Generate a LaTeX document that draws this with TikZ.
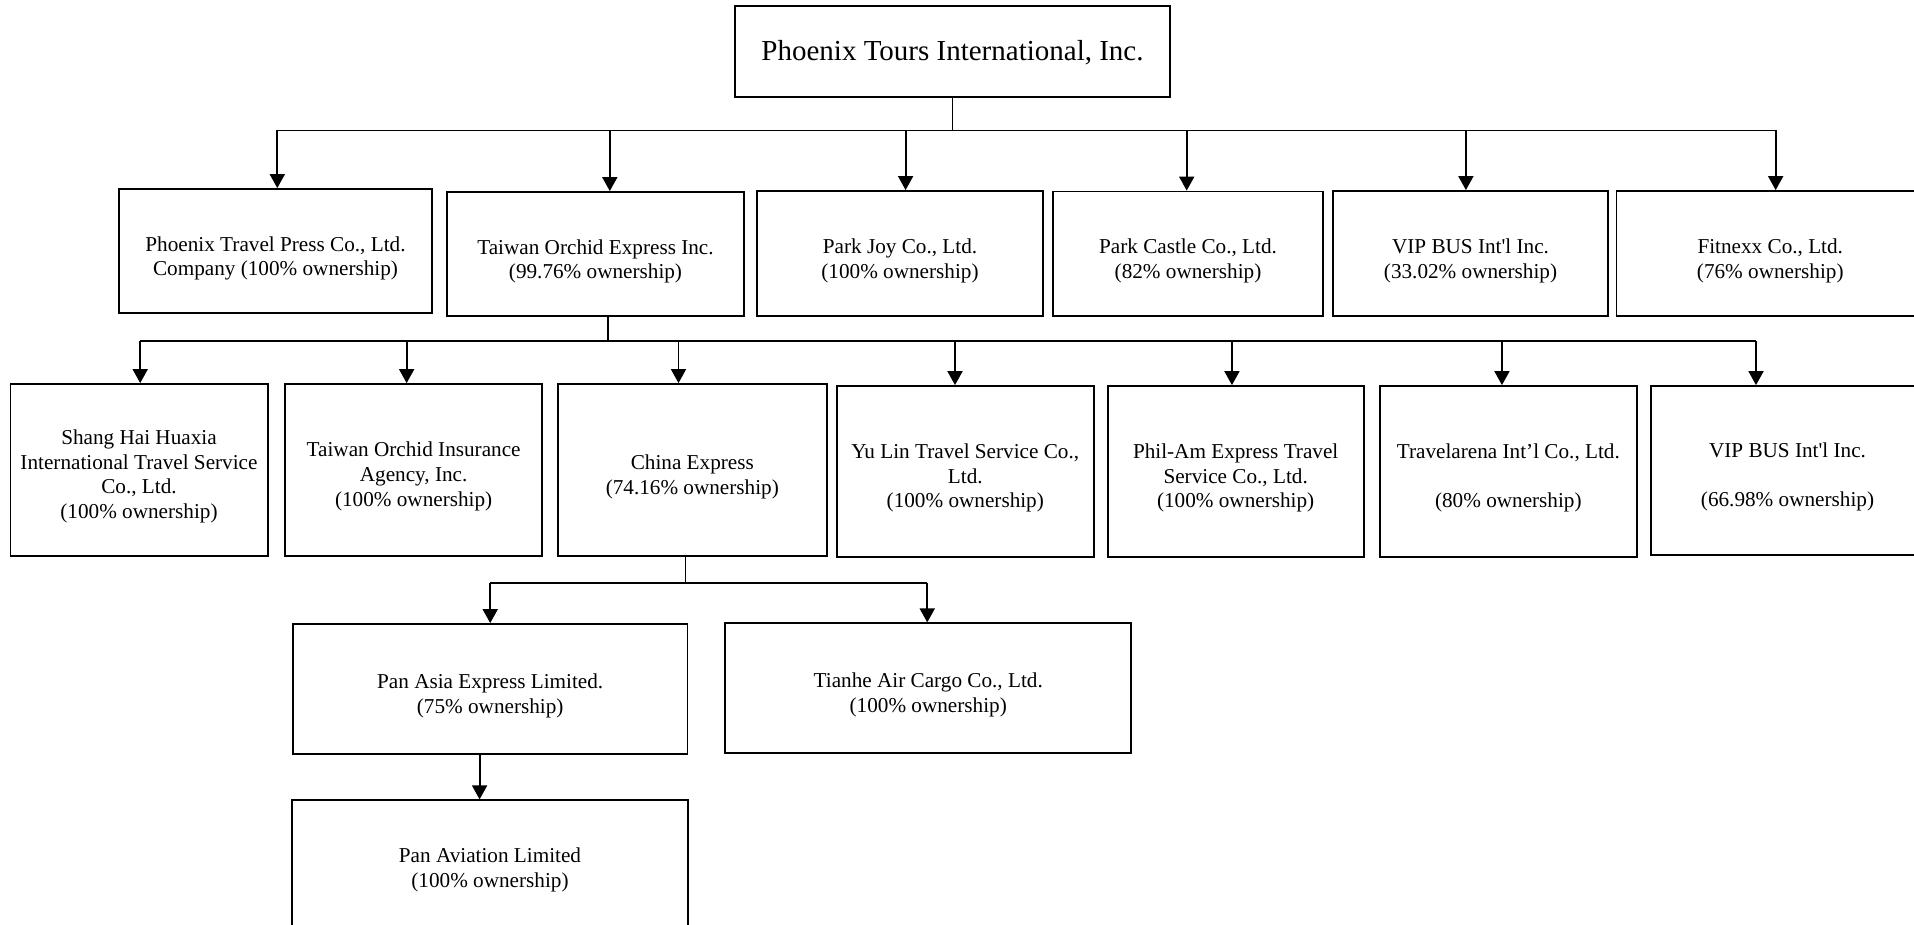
\documentclass[tikz,border=0pt]{standalone}
\usepackage{fontspec}
\setmainfont{Liberation Serif}
\usetikzlibrary{arrows.meta}
\newcommand\orgbox[5]{% name, x1, x2, y1, y2
  \pgfmathsetmacro\obW{#3-#2}\pgfmathsetmacro\obH{#5-#4}%
  \pgfmathsetmacro\obX{(#2+#3)/2}\pgfmathsetmacro\obY{(#4+#5)/2}%
  \node[boxst, minimum width=\obW pt, minimum height=\obH pt] (#1) at (\obX,\obY) {};}
\tikzset{
  boxst/.style={draw, line width=1.8pt, inner sep=0pt},
  txt/.style={align=center, inner sep=0pt, font=\fontsize{21.2}{24.7}\selectfont},
  roottxt/.style={align=center, inner sep=0pt, font=\fontsize{29}{34}\selectfont},
  ln/.style={line width=1.8pt},
  arr/.style={line width=1.8pt, -{Triangle[length=14pt,width=15pt]}},
}
\begin{document}
\begin{tikzpicture}[x=1pt,y=-1pt]
\useasboundingbox (0,0) rectangle (1914,925);
\clip (0,0) rectangle (1914,925);
% root
\orgbox{root}{735}{1170}{6}{97}
\node[roottxt] (roott) at ([yshift=-1pt]root.center) {Phoenix Tours International, Inc.};
% level 1
\orgbox{a1}{119}{432}{189}{313}
\orgbox{a2}{447}{744}{192}{316}
\orgbox{a3}{757}{1043}{191}{316}
\orgbox{a4}{1053}{1323}{191.5}{316}
\orgbox{a5}{1333}{1608}{191}{316}
\orgbox{a6}{1616.5}{1924}{191}{316}
\node[txt] (a1t) at ([yshift=-7.5pt]a1.center) {Phoenix Travel Press Co., Ltd.\\Company (100\% ownership)};
\node[txt] (a2t) at ([yshift=-7.5pt]a2.center) {Taiwan Orchid Express Inc.\\(99.76\% ownership)};
\node[txt] (a3t) at ([yshift=-7.5pt]a3.center) {Park Joy Co., Ltd.\\(100\% ownership)};
\node[txt] (a4t) at ([yshift=-7.5pt]a4.center) {Park Castle Co., Ltd.\\(82\% ownership)};
\node[txt] (a5t) at ([yshift=-7.5pt]a5.center) {VIP BUS Int\textquotesingle l Inc.\\(33.02\% ownership)};
\node[txt] (a6t) at ([yshift=-7.5pt]a6.center) {Fitnexx Co., Ltd.\\(76\% ownership)};
% level 2
\orgbox{b1}{10.4}{267.6}{384}{556}
\orgbox{b2}{285.3}{542}{384}{556}
\orgbox{b3}{558}{826.6}{384}{556}
\orgbox{b4}{837}{1093.6}{386}{557}
\orgbox{b5}{1107.7}{1363.6}{386}{557}
\orgbox{b6}{1380}{1636.7}{386}{557}
\orgbox{b7}{1651}{1924}{386}{555}
\node[txt] (b1t) at ([yshift=-6.5pt]b1.center) {Shang Hai Huaxia\\International Travel Service\\Co., Ltd.\\(100\% ownership)};
\node[txt] (b2t) at ([yshift=-6.5pt]b2.center) {Taiwan Orchid Insurance\\Agency, Inc.\\(100\% ownership)};
\node[txt] (b3t) at ([yshift=-7pt]b3.center) {China Express\\(74.16\% ownership)};
\node[txt] (b4t) at ([yshift=-6.5pt]b4.center) {Yu Lin Travel Service Co.,\\Ltd.\\(100\% ownership)};
\node[txt] (b5t) at ([yshift=-6.5pt]b5.center) {Phil-Am Express Travel\\Service Co., Ltd.\\(100\% ownership)};
\node[txt] (b6t) at ([yshift=-6.5pt]b6.center) {Travelarena Int’l Co., Ltd.\\[24.7pt](80\% ownership)};
\node[txt] (b7t) at ([yshift=-6.5pt]b7.center) {VIP BUS Int\textquotesingle l Inc.\\[24.7pt](66.98\% ownership)};
% level 3
\orgbox{c1}{293}{687.4}{624}{754.3}
\orgbox{c2}{725.3}{1131.2}{623.3}{753.3}
\orgbox{d1}{292}{688}{800.3}{930}
\node[txt] (c1t) at ([yshift=-7pt]c1.center) {Pan Asia Express Limited.\\(75\% ownership)};
\node[txt] (c2t) at ([yshift=-6.5pt]c2.center) {Tianhe Air Cargo Co., Ltd.\\(100\% ownership)};
\node[txt] (d1t) at ([yshift=-5pt]d1.center) {Pan Aviation Limited\\(100\% ownership)};
% connector helper coordinates
\coordinate (a1in) at ([xshift=1.8pt]a1.north);
\coordinate (a2in) at ([xshift=14.3pt]a2.north);
\coordinate (a3in) at ([xshift=5.6pt]a3.north);
\coordinate (a4in) at ([xshift=-1.3pt]a4.north);
\coordinate (a5in) at ([xshift=-4.6pt]a5.north);
\coordinate (a6in) at ([xshift=5.4pt]a6.north);
\coordinate (bus1) at (0,130.5);
\coordinate (a2out) at ([xshift=12.5pt]a2.south);
\coordinate (b1in) at ([xshift=1.2pt]b1.north);
\coordinate (b2in) at ([xshift=-7pt]b2.north);
\coordinate (b3in) at ([xshift=-13.8pt]b3.north);
\coordinate (b4in) at ([xshift=-10.3pt]b4.north);
\coordinate (b5in) at ([xshift=-3.7pt]b5.north);
\coordinate (b6in) at ([xshift=-6.4pt]b6.north);
\coordinate (b7in) at ([xshift=-31.5pt]b7.north);
\coordinate (bus2) at (0,341);
\coordinate (b3out) at ([xshift=-6.8pt]b3.south);
\coordinate (c1in) at (c1.north);
\coordinate (c2in) at ([xshift=-1pt]c2.north);
\coordinate (bus3) at (0,582.7);
\coordinate (c1out) at ([xshift=-10.6pt]c1.south);
\coordinate (d1in) at ([xshift=-10.4pt]d1.north);
% level 1 connectors
\draw[ln] (root.south) -- (root.south |- bus1);
\draw[ln] (a1in |- bus1) -- (a6in |- bus1);
\foreach \n in {a1in,a2in,a3in,a4in,a5in,a6in}
  \draw[arr] (\n |- bus1) -- (\n);
% level 2 connectors
\draw[ln] (a2out) -- (a2out |- bus2);
\draw[ln] (b1in |- bus2) -- (b7in |- bus2);
\foreach \n in {b1in,b2in,b3in,b4in,b5in,b6in,b7in}
  \draw[arr] (\n |- bus2) -- (\n);
% level 3 connectors
\draw[ln] (b3out) -- (b3out |- bus3);
\draw[ln] (c1in |- bus3) -- (c2in |- bus3);
\foreach \n in {c1in,c2in}
  \draw[arr] (\n |- bus3) -- (\n);
\draw[arr] (c1out) -- (c1out |- d1in);
\end{tikzpicture}
\end{document}
